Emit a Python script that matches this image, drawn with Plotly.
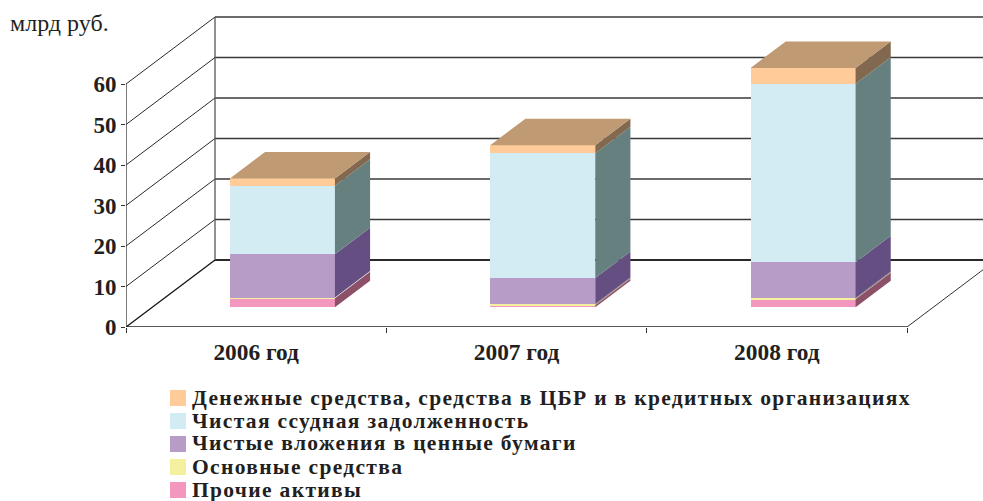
import plotly.graph_objects as go

WIDTH, HEIGHT = 983, 501
years = ["2006 год", "2007 год", "2008 год"]
series_names = [
    "Прочие активы",
    "Основные средства",
    "Чистые вложения в ценные бумаги",
    "Чистая ссудная задолженность",
    "Денежные средства, средства в ЦБР и в кредитных организациях",
]
other_assets = [2.2, 0.5, 2.0]
fixed_assets = [0.2, 0.3, 0.3]
securities = [10.7, 6.4, 8.8]
loans = [16.9, 30.8, 44.1]
cash = [1.8, 2.0, 3.9]
y_ticks = [0, 10, 20, 30, 40, 50, 60]

front_colors = ["#F497BF", "#F5F0A0", "#B79CC8", "#D3ECF3", "#FFCC99"]
side_colors = ["#8C5068", "#9A9080", "#654E82", "#66807F", "#82684E"]
top_color = "#C09A72"
ink = "#231F20"
serif = "Liberation Serif"

# Oblique projection: depth 0..1 shifts a point by (DX, DY) in axis units
L, R, T, B = 126, 0, 0, 174
PX_X, PX_Y = 781 / 3, 243 / 60
DX, DY = 89 / PX_X, 67 / PX_Y
BAR_W = 105 / PX_X
D0, D1 = 0.295, 0.69


def p(x, v, d):
    return x + d * DX, v + d * DY


def px(xp):
    return (xp - L) / (WIDTH - L - R)


def py(yp):
    return 1 - (yp - T) / (HEIGHT - T - B)


values = [other_assets, fixed_assets, securities, loans, cash]
fig = go.Figure()
shapes = []


def seg(a, b, color="#3a3a3a", w=1.2):
    shapes.append(dict(type="line", xref="x", yref="y", x0=a[0], y0=a[1], x1=b[0], y1=b[1],
                       layer="below", line=dict(color=color, width=w)))


# walls and floor
for v in y_ticks:
    if v > 0:
        seg(p(0, v, 0), p(0, v, 1), "#2a2a2a", 1)
        seg(p(0, v, 1), p(3, v, 1), "#3a3a3a", 1.3)
seg(p(0, 0, 0), p(0, 0, 1), "#111111", 1.3)
seg(p(0, 0, 1), p(3, 0, 1), "#2a2a2a", 2)
seg(p(3, 0, 0), p(3, 0, 1), "#333333", 1)
seg(p(0, 0, 1), p(0, y_ticks[-1], 1), "#555555", 1.3)
seg(p(0, 0, 0), p(0, y_ticks[-1], 0), "#333333", 1.3)
seg(p(0, 0, 0), p(3, 0, 0), "#222222", 1.6)

centers = [i + 0.5 for i in range(len(years))]
bases = [0.0] * len(years)
for s, vals in enumerate(values):
    bar_x = [p(c, 0, D0)[0] for c in centers]
    bar_base = [b + D0 * DY for b in bases]
    fig.add_trace(go.Bar(x=bar_x, y=vals, base=bar_base, width=BAR_W, name=series_names[s],
                         marker=dict(color=front_colors[s], line=dict(width=0)),
                         showlegend=False, hoverinfo="skip"))
    xs, ys = [], []
    for c, b, v in zip(centers, bases, vals):
        right = c + BAR_W / 2
        corners = [p(right, b, D0), p(right, b, D1), p(right, b + v, D1), p(right, b + v, D0), p(right, b, D0)]
        xs += [q[0] for q in corners] + [None]
        ys += [q[1] for q in corners] + [None]
    fig.add_trace(go.Scatter(x=xs, y=ys, mode="lines", fill="toself", fillcolor=side_colors[s],
                             line=dict(width=0), showlegend=False, hoverinfo="skip"))
    bases = [b + v for b, v in zip(bases, vals)]

xs, ys = [], []
for c, t in zip(centers, bases):
    lft, right = c - BAR_W / 2, c + BAR_W / 2
    corners = [p(lft, t, D0), p(right, t, D0), p(right, t, D1), p(lft, t, D1), p(lft, t, D0)]
    xs += [q[0] for q in corners] + [None]
    ys += [q[1] for q in corners] + [None]
fig.add_trace(go.Scatter(x=xs, y=ys, mode="lines", fill="toself", fillcolor=top_color,
                         line=dict(width=0), showlegend=False, hoverinfo="skip"))

annotations = [dict(text="млрд руб.", xref="paper", yref="paper", x=px(8), y=py(23),
                    xanchor="left", yanchor="middle", showarrow=False,
                    font=dict(family=serif, size=24, color=ink))]

for i, name in enumerate(reversed(series_names)):
    col = list(reversed(front_colors))[i]
    shapes.append(dict(type="rect", xref="paper", yref="paper", x0=px(170), x1=px(186),
                       y0=py(390 + 23 * i), y1=py(406 + 23 * i), fillcolor=col, line=dict(width=0)))
    annotations.append(dict(text="<b>" + name + "</b>", xref="paper", yref="paper", x=px(190), y=py(397.5 + 23 * i),
                            xanchor="left", yanchor="middle", showarrow=False,
                            font=dict(family=serif, size=21.5, color=ink)))

fig.update_layout(
    width=WIDTH, height=HEIGHT, margin=dict(l=L, r=R, t=T, b=B, pad=0),
    paper_bgcolor="white", plot_bgcolor="white", barmode="overlay", bargap=0,
    shapes=shapes, annotations=annotations,
    xaxis=dict(range=[0, (WIDTH - L) / PX_X], showgrid=False, zeroline=False, showline=False,
               tickmode="array", tickvals=centers, ticktext=[f"<b>{y}</b>" for y in years],
               ticks="", ticklabelstandoff=9,
               tickfont=dict(family=serif, size=23.4, color=ink),
               minor=dict(tickmode="array", tickvals=[0, 1, 2, 3], ticks="outside", ticklen=5,
                          tickcolor="#333333", tickwidth=1, showgrid=False)),
    yaxis=dict(range=[0, (HEIGHT - B - T) / PX_Y], showgrid=False, zeroline=False, showline=False,
               tickmode="array", tickvals=y_ticks, ticktext=[f"<b>{v}</b>" for v in y_ticks],
               ticks="outside", ticklen=4, tickcolor="#333333", tickwidth=1,
               tickfont=dict(family=serif, size=23, color=ink)),
)

post = """
document.body.style.margin = '0';
document.querySelectorAll('.annotation-text').forEach(function (t) {
  if (t.textContent.indexOf('млрд') === 0) return;
  var x0 = t.getBBox().x;
  t.style.letterSpacing = '1.33px';
  var dx = x0 - t.getBBox().x;
  t.setAttribute('x', parseFloat(t.getAttribute('x')) + dx);
});
"""
fig.write_html("out.html", config={"displayModeBar": False}, post_script=post)
